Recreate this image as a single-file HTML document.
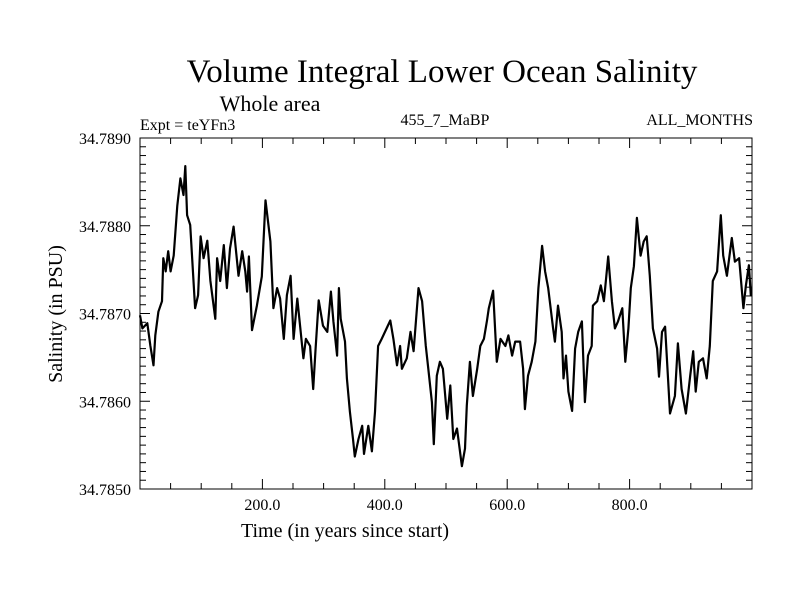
<!DOCTYPE html>
<html><head><meta charset="utf-8"><style>
body{margin:0;background:#fff}
svg text{fill:#000}
.serif{font-family:"Liberation Serif",serif}
</style></head><body>
<svg id="chart" width="800" height="600" xmlns="http://www.w3.org/2000/svg">
<rect width="800" height="600" fill="#fff"/>
<text class="serif" x="442" y="82" font-size="33" text-anchor="middle">Volume Integral Lower Ocean Salinity</text>
<text class="serif" x="270" y="111" font-size="22" text-anchor="middle">Whole area</text>
<text class="serif" x="140" y="130" font-size="16">Expt = teYFn3</text>
<text class="serif" x="445" y="125" font-size="16" text-anchor="middle">455_7_MaBP</text>
<text class="serif" x="753" y="125" font-size="16" text-anchor="end">ALL_MONTHS</text>
<text class="serif" x="345" y="537" font-size="20" text-anchor="middle">Time (in years since start)</text>
<text class="serif" transform="translate(62,314) rotate(-90)" font-size="20" text-anchor="middle">Salinity (in PSU)</text>
<g id="axes"></g>
<path id="series" fill="none" stroke="#000" stroke-width="2.2" stroke-linejoin="round"/>
<rect x="140" y="138" width="612" height="351" fill="none" stroke="#000" stroke-width="1"/>
</svg>
<script>
const years=[0,4,12,17,22,25,30,36,38,42,46,50,55,61,66,71,74,77,82,90,95,99,104,110,115,123,126,131,137,142,147,153,161,167,172,175,178,183,191,199,205,213,218,224,229,235,240,246,251,257,267,271,278,283,287,292,299,306,312,316,322,325,328,335,338,343,348,351,357,363,366,373,379,384,389,395,403,409,414,420,425,428,436,442,447,455,461,467,471,477,480,485,490,495,502,507,512,518,526,531,534,539,544,551,556,562,567,570,577,583,589,597,602,608,613,621,626,629,634,640,646,651,657,662,667,675,678,683,689,692,696,700,706,711,716,722,727,732,738,740,747,753,758,765,771,776,781,788,793,798,802,807,812,818,823,828,833,838,845,848,853,858,866,874,879,885,892,899,904,908,913,920,926,931,936,943,949,953,959,967,972,979,986,990,995,998,1000];
const salinity=[34.78698,34.78683,34.78689,34.78663,34.78641,34.78675,34.78702,34.78714,34.78763,34.78748,34.78771,34.78748,34.78766,34.78823,34.78854,34.78835,34.78868,34.78812,34.78801,34.78706,34.78721,34.78788,34.78763,34.78783,34.78737,34.78694,34.78763,34.78737,34.78778,34.78729,34.78774,34.78799,34.78743,34.78771,34.78748,34.78725,34.78765,34.78681,34.78709,34.78742,34.78829,34.78782,34.78706,34.78729,34.78717,34.78671,34.78721,34.78743,34.78671,34.78717,34.78649,34.78671,34.78663,34.78614,34.78660,34.78715,34.78686,34.78679,34.78725,34.78691,34.78652,34.78729,34.78694,34.78668,34.78626,34.78588,34.78557,34.78537,34.78557,34.78572,34.78540,34.78572,34.78543,34.78588,34.78663,34.78671,34.78683,34.78692,34.78671,34.78641,34.78663,34.78637,34.78649,34.78679,34.78657,34.78729,34.78714,34.78663,34.78637,34.78599,34.78551,34.78629,34.78645,34.78637,34.78580,34.78618,34.78557,34.78569,34.78526,34.78546,34.78595,34.78645,34.78606,34.78637,34.78663,34.78671,34.78692,34.78706,34.78726,34.78645,34.78671,34.78663,34.78675,34.78652,34.78668,34.78668,34.78637,34.78591,34.78629,34.78645,34.78668,34.78729,34.78777,34.78748,34.78729,34.78683,34.78668,34.78709,34.78679,34.78626,34.78652,34.78611,34.78589,34.78660,34.78679,34.78691,34.78599,34.78652,34.78663,34.78709,34.78714,34.78732,34.78714,34.78765,34.78714,34.78683,34.78691,34.78706,34.78645,34.78683,34.78729,34.78754,34.78809,34.78766,34.78782,34.78788,34.78743,34.78683,34.78660,34.78628,34.78679,34.78685,34.78586,34.78606,34.78666,34.78614,34.78586,34.78629,34.78657,34.78611,34.78645,34.78649,34.78626,34.78663,34.78737,34.78748,34.78812,34.78766,34.78743,34.78786,34.78759,34.78763,34.78706,34.78732,34.78755,34.78721,34.78721];
const yTicks=[34.785,34.786,34.787,34.788,34.789];
const yTickLabels=["34.7850","34.7860","34.7870","34.7880","34.7890"];
const xTicks=[200,400,600,800];
const xTickLabels=["200.0","400.0","600.0","800.0"];
const X0=140,X1=752,Y0=138,Y1=489,XMIN=0,XMAX=1000,YMIN=34.785,YMAX=34.789;
function xs(v){return X0+(v-XMIN)/(XMAX-XMIN)*(X1-X0);}
function ys(v){return Y1-(v-YMIN)/(YMAX-YMIN)*(Y1-Y0);}
const NS="http://www.w3.org/2000/svg";
const axes=document.getElementById('axes');
function line(x1,y1,x2,y2,name){const l=document.createElementNS(NS,'line');l.setAttribute('x1',x1);l.setAttribute('y1',y1);l.setAttribute('x2',x2);l.setAttribute('y2',y2);l.setAttribute('stroke','#000');l.setAttribute('stroke-width','1');


axes.appendChild(l);}
function text(x,y,s,anchor,name){const t=document.createElementNS(NS,'text');t.setAttribute('x',x);t.setAttribute('y',y);t.setAttribute('font-size','16');t.setAttribute('class','serif');t.setAttribute('text-anchor',anchor);t.textContent=s;


axes.appendChild(t);}
for(let k=0;k<=40;k++){const v=YMIN+k*0.0001;const y=ys(v);const major=k%10===0;const len=major?10:6;
line(X0,y,X0+len,y,'y-tick');line(X1-len,y,X1,y,'y-tick-right');}
yTicks.forEach((v,i)=>text(X0-9,ys(v)+6,yTickLabels[i],'end','y-tick-label'));
for(let v=50;v<XMAX;v+=50){const x=xs(v);const len=(v%200===0)?10:6;
line(x,Y1,x,Y1-len,'x-tick');line(x,Y0,x,Y0+len,'x-tick-top');}
xTicks.forEach((v,i)=>text(xs(v),Y1+21,xTickLabels[i],'middle','x-tick-label'));
let d='';years.forEach((yr,i)=>{d+=(i?'L':'M')+xs(yr).toFixed(1)+','+ys(salinity[i]).toFixed(1);});
document.getElementById('series').setAttribute('d',d);
</script>
</body></html>
